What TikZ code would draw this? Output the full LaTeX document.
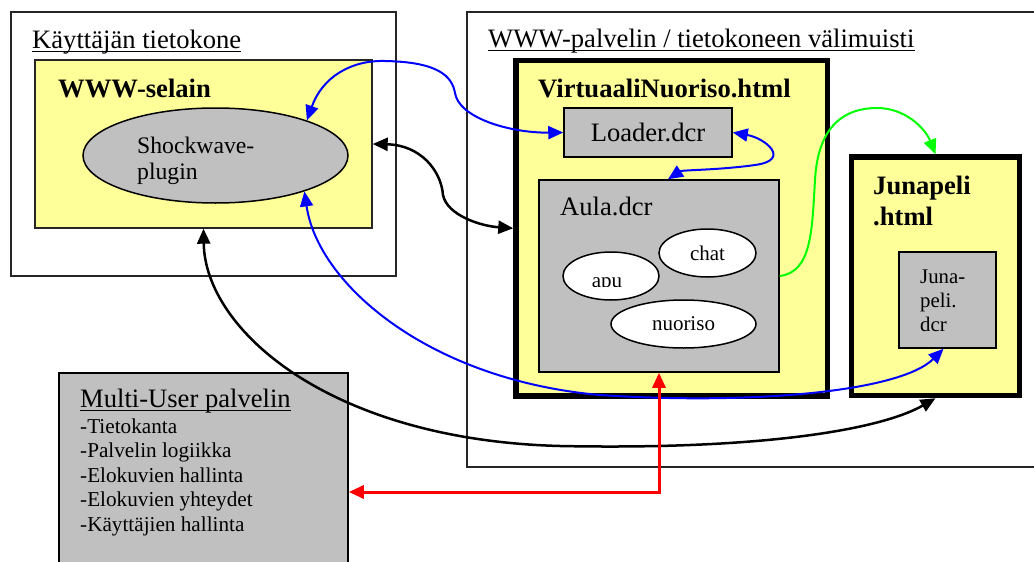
\documentclass[tikz,border=0pt]{standalone}
\usepackage{fontspec}
\setmainfont{Liberation Serif}
\usetikzlibrary{shapes.geometric,arrows.meta}

\definecolor{paleyellow}{RGB}{255,255,153}
\definecolor{midgray}{RGB}{192,192,192}
\definecolor{linkgreen}{RGB}{0,255,0}

\begin{document}
\begin{tikzpicture}[x=1pt, y=-1pt,
        >={Triangle[length=15pt,width=13pt]},
        frame/.style={draw=black!85, line width=1.4pt, rectangle, inner sep=0pt},
        htmlbox/.style={draw, line width=5.5pt, rectangle, fill=paleyellow, inner sep=0pt},
        dcrbox/.style={draw, line width=1.5pt, rectangle, fill=midgray, inner sep=0pt},
        bubble/.style={draw, line width=1.5pt, ellipse, fill=white, inner sep=0pt, font=\fontsize{21}{24}\selectfont},
        heading/.style={anchor=base west, inner sep=0pt, font=\fontsize{26.6}{31}\selectfont},
        link/.style={line width=2pt}]
    \useasboundingbox (0,0) rectangle (1034,562);

    % computers and servers
    \node[frame, minimum width=573pt, minimum height=455pt] (server) at (753.5,239.5) {};
    \node[frame, minimum width=385pt, minimum height=264pt] (pc) at (203.5,144) {};
    \node[frame, fill=paleyellow, minimum width=337pt, minimum height=168pt] (browser) at (203.5,144) {};
    \node[draw, line width=1.5pt, ellipse, fill=midgray, inner sep=0pt, minimum width=265pt, minimum height=95pt] (plugin) at (215.5,155.5) {};
    \node[dcrbox, minimum width=289pt, minimum height=238pt] (mus) at (203.5,492) {};

    \node[htmlbox, minimum width=311.5pt, minimum height=335.5pt] (vn) at (671.75,228.25) {};
    \node[dcrbox, minimum width=168pt, minimum height=49pt, font=\fontsize{26.6}{31}\selectfont] (loader) at (648,132.5) {Loader.dcr};
    \node[dcrbox, minimum width=240pt, minimum height=192pt] (aula) at (659,276) {};
    \node[bubble, minimum width=97pt, minimum height=48pt] (chat) at (707.5,253) {chat};
    \node[bubble, minimum width=96pt, minimum height=48pt] (apu) at (611,276) {};
    \node[bubble, minimum width=145pt, minimum height=48pt] (nuoriso) at (683.5,324) {nuoriso};
    \begin{scope}
        \clip (560,240) rectangle (665,286.5);
        \node[anchor=base, inner sep=0pt, font=\fontsize{21}{24}\selectfont] (aputext) at (607,287) {apu};
    \end{scope}

    \node[htmlbox, minimum width=168pt, minimum height=238.5pt] (juna) at (935.5,276.25) {};
    \node[dcrbox, minimum width=97pt, minimum height=96pt] (junadcr) at (947.5,300) {};

    % texts
    \node[heading] (pctitle) at (32,48) {Käyttäjän tietokone};
    \node[heading] (servertitle) at (488,47) {WWW-palvelin / tietokoneen välimuisti};
    \node[heading, font=\fontsize{26.6}{31}\selectfont\bfseries] (browsertitle) at (58,97) {WWW-selain};
    \node[heading, font=\fontsize{26.6}{31}\selectfont\bfseries] (vntitle) at (538,97) {VirtuaaliNuoriso.html};
    \node[heading] (aulatitle) at (560,215) {Aula.dcr};
    \node[heading] (mustitle) at (80,407) {Multi-User palvelin};
    \node[anchor=north west, align=left, inner sep=0pt, font=\fontsize{23.7}{26}\selectfont] (plugintext) at (137,137) {Shockwave-\\plugin};
    \node[anchor=north west, align=left, inner sep=0pt, font=\fontsize{26.6}{31}\selectfont\bfseries] (junatitle) at (873,176) {Junapeli\\.html};
    \node[anchor=north west, align=left, inner sep=0pt, font=\fontsize{20.8}{24}\selectfont] (junadcrtext) at (920,269.2) {Juna-\\peli.\\dcr};
    \node[anchor=north west, align=left, inner sep=0pt, font=\fontsize{21.2}{24.5}\selectfont] (muslist) at (80,418.5)
        {-Tietokanta\\-Palvelin logiikka\\-Elokuvien hallinta\\-Elokuvien yhteydet\\-Käyttäjien hallinta};

    \draw[line width=1.4pt] ([yshift=-3.5pt]pctitle.base west) -- ([yshift=-3.5pt]pctitle.base east);
    \draw[line width=1.4pt] ([yshift=-3.5pt]servertitle.base west) -- ([yshift=-3.5pt]servertitle.base east);
    \draw[line width=1.4pt] ([yshift=-3.5pt]mustitle.base west) -- ([yshift=-3.5pt]mustitle.base east);

    % connections
    \draw[link, blue, <->] (plugin.21) .. controls (322,78) and (350,60) .. (385,61)
        .. controls (438,62) and (452,76) .. (455,93)
        .. controls (459,118) and (510,133) .. (loader.west);
    \draw[link, blue, <->] (loader.east) .. controls (765,138) and (792,160) .. (755,165)
        .. controls (720,170) and (682,170) .. ([xshift=9pt]aula.north);
    \draw[link, line width=2.5pt, <->] (browser.east) .. controls (420,145) and (441,170) .. (443,195)
        .. controls (447,215) and (480,226) .. (vn.west);
    \draw[link, blue, <->] (plugin.-22) .. controls (318,285) and (430,380) .. (600,395)
        .. controls (750,405) and (900,392) .. ([xshift=-4pt]junadcr.south);
    \draw[link, line width=2.5pt, <->] (browser.south) .. controls (205,330) and (330,440) .. (560,446)
        .. controls (760,450) and (880,430) .. (juna.south);
    \draw[link, linkgreen, ->] (aula.east) .. controls (812,272) and (812,230) .. (815,180)
        .. controls (818,125) and (845,108) .. (877,108)
        .. controls (905,108) and (925,128) .. (juna.north);
    \draw[link, red, line width=3pt, <->] (aula.south) |- (mus.east);
\end{tikzpicture}
\end{document}
